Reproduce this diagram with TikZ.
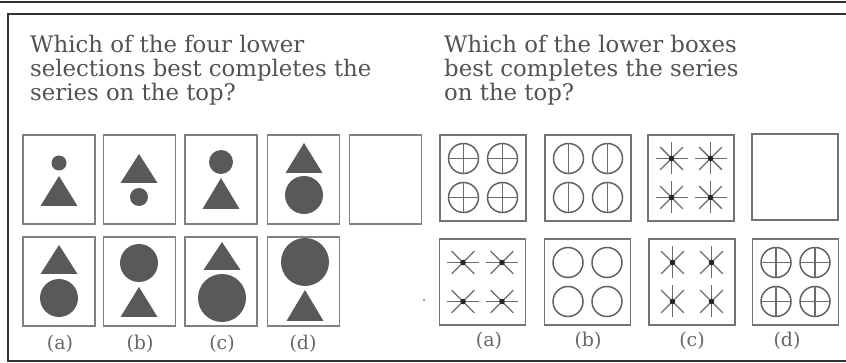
\documentclass[tikz,border=0pt]{standalone}
\usepackage{fontspec}
\setmainfont{DejaVu Serif}
\usepackage{tikz}
\usetikzlibrary{positioning}

\newcommand{\trishape}[3]{\fill[blob] (#1,#2) -- ++(18.5,#3) -- ++(-37,0) -- cycle;}

\begin{document}
\begin{tikzpicture}[
        x=1pt, y=-1pt,
        frame/.style={draw=black!80, line width=2pt},
        tallbox/.style={draw=black!50, line width=1.3pt, minimum width=72pt,
          minimum height=89pt, inner sep=0pt},
        sqbox/.style={draw=black!55, line width=1.3pt, minimum size=86pt, inner sep=0pt},
        blob/.style={fill=black!65},
        ring/.style={draw=black!62, line width=1.5pt},
        spoke/.style={draw=black!58, line width=1.4pt},
        hub/.style={fill=black!85},
        question/.style={anchor=base west, inner sep=0pt, text=black!68,
          font=\fontsize{22.8}{22.8}\selectfont},
        caption/.style={inner sep=0pt, text=black!60, font=\fontsize{19}{19}\selectfont},
      ]
      \useasboundingbox (0,0) rectangle (846,363);

      % page rules and frame
      \draw[frame] (0,2) -- (846,2);
      \draw[frame] (846,14) -- (7.5,14) -- (7.5,361) -- (846,361);

      % questions
      \node[question] (ql1) at (30,53)  {Which of the four lower};
      \node[question] (ql2) at (30,77)  {selections best completes the};
      \node[question] (ql3) at (30,101) {series on the top?};
      \node[question] (qr1) at (444,53)  {Which of the lower boxes};
      \node[question] (qr2) at (444,77)  {best completes the series};
      \node[question] (qr3) at (444,101) {on the top?};

      % left series
      \node[tallbox] (s1) at (59,179.5)    {};
      \node[tallbox] (s2) at (139.5,179.5) {};
      \node[tallbox] (s3) at (221,179.5)   {};
      \node[tallbox] (s4) at (303.5,179.5) {};
      \node[tallbox] (s5) at (385.5,179.5) {};

      \fill[blob] (59,163) circle (7.5);
      \trishape{59}{176}{30}
      \trishape{139}{154}{29}
      \fill[blob] (139,197) circle (9);
      \fill[blob] (221,162) circle (12);
      \trishape{221}{178}{31}
      \trishape{304}{143}{30}
      \fill[blob] (304,195) circle (19);

      % left choices
      \node[tallbox] (c1) at (59,281.5)    {};
      \node[tallbox] (c2) at (139.5,281.5) {};
      \node[tallbox] (c3) at (221,281.5)   {};
      \node[tallbox] (c4) at (303.5,281.5) {};

      \trishape{59}{245}{29}
      \fill[blob] (59,298) circle (19);
      \fill[blob] (139,263) circle (19);
      \trishape{139}{287}{30}
      \trishape{222}{242}{28}
      \fill[blob] (222,298) circle (24);
      \fill[blob] (305,262) circle (24);
      \trishape{305}{290}{31}

      \fill[black!35] (424,300) circle (1.5);

      \node[caption] at (60,344)  {(a)};
      \node[caption] at (140,344) {(b)};
      \node[caption] at (222,344) {(c)};
      \node[caption] at (303,344) {(d)};

      % right series
      \node[sqbox] (r1) at (483,178) {};
      \node[sqbox] (r2) at (588,178) {};
      \node[sqbox] (r3) at (691,178) {};
      \node[sqbox] (r4) at (795,177) {};

      % right choices
      \node[sqbox] (a1) at (482.5,282) {};
      \node[sqbox] (a2) at (587.5,282) {};
      \node[sqbox] (a3) at (692,282)   {};
      \node[sqbox] (a4) at (795.5,282) {};

      \foreach \dx in {-19.5,19.5}
      \foreach \dy in {-19.5,19.5} {
          % circles with a cross
          \begin{scope}[shift={(r1)}]
            \draw[ring] (\dx,\dy) circle (15);
            \draw[spoke] (\dx-15,\dy) -- (\dx+15,\dy) (\dx,\dy-15) -- (\dx,\dy+15);
          \end{scope}
          \begin{scope}[shift={(a4)}]
            \draw[ring] (\dx,\dy) circle (15);
            \draw[spoke] (\dx-15,\dy) -- (\dx+15,\dy) (\dx,\dy-15) -- (\dx,\dy+15);
          \end{scope}
          % circles with a bar
          \begin{scope}[shift={(r2)}]
            \draw[ring] (\dx,\dy) circle (15);
            \draw[spoke] (\dx,\dy-15) -- (\dx,\dy+15);
          \end{scope}
          % plain circles
          \begin{scope}[shift={(a2)}]
            \draw[ring] (\dx,\dy) circle (15);
          \end{scope}
          % stars
          \begin{scope}[shift={(r3)}]
            \foreach \ang in {0,45,90,135}
              \draw[spoke] (\dx,\dy) ++(\ang:16) -- ++(\ang+180:32);
            \fill[hub] (\dx,\dy) circle (2.8);
          \end{scope}
          \begin{scope}[shift={(a1)}]
            \foreach \ang in {0,45,135}
              \draw[spoke] (\dx,\dy) ++(\ang:16) -- ++(\ang+180:32);
            \fill[hub] (\dx,\dy) circle (2.8);
          \end{scope}
          \begin{scope}[shift={(a3)}]
            \foreach \ang in {45,90,135}
              \draw[spoke] (\dx,\dy) ++(\ang:16) -- ++(\ang+180:32);
            \fill[hub] (\dx,\dy) circle (2.8);
          \end{scope}
        }

      \node[caption] at (489,341) {(a)};
      \node[caption] at (588,341) {(b)};
      \node[caption] at (692,341) {(c)};
      \node[caption] at (787,341) {(d)};
    \end{tikzpicture}
\end{document}
